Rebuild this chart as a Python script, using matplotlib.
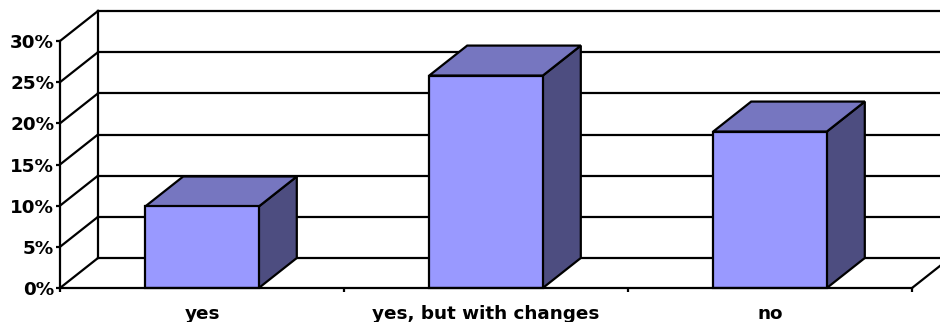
import matplotlib
matplotlib.use("Agg")
import matplotlib.pyplot as plt
from matplotlib.patches import Polygon

categories = ["yes", "yes, but with changes", "no"]
values = [9.9, 25.8, 19.0]
yticks = [0, 5, 10, 15, 20, 25, 30]
ytick_labels = ["0%", "5%", "10%", "15%", "20%", "25%", "30%"]

W, H, DPI = 940, 322, 100
fig = plt.figure(figsize=(W / DPI, H / DPI), dpi=DPI)
fig.patch.set_facecolor("white")

left_px, right_px, bottom_px, top_px = 60, 912, 288, 41
ax = fig.add_axes([left_px / W, 1 - bottom_px / H,
                   (right_px - left_px) / W, (bottom_px - top_px) / H])
ax.set_xlim(-0.5, 2.5)
ax.set_ylim(0, 30)
ax.set_facecolor("none")

# depth offset of the 3D look, in data units
dx = 38 * 3.0 / (right_px - left_px)
dy = 30 * 30.0 / (bottom_px - top_px)

LW = 1.6
K = "black"
front_c = "#9999FF"
top_c = "#7676C0"
side_c = "#4D4D80"

x0, x1 = -0.5, 2.5
# back wall
ax.plot([x0 + dx, x0 + dx], [dy, 30 + dy], color=K, lw=LW, clip_on=False, zorder=1, solid_capstyle="projecting")
ax.plot([x1 + dx, x1 + dx], [dy, 30 + dy], color=K, lw=LW, clip_on=False, zorder=1)
for v in yticks:
    ax.plot([x0 + dx, x1 + dx], [v + dy, v + dy], color=K, lw=LW, clip_on=False, zorder=1)
    ax.plot([x0, x0 + dx], [v, v + dy], color=K, lw=LW, clip_on=False, zorder=1)
# floor right edge
ax.plot([x1, x1 + dx], [0, dy], color=K, lw=LW, clip_on=False, zorder=1)

# bars
bw = 0.4
for i, v in enumerate(values):
    a, b = i - bw / 2, i + bw / 2
    front = Polygon([(a, 0), (b, 0), (b, v), (a, v)], closed=True,
                    facecolor=front_c, edgecolor=K, lw=LW, zorder=3, clip_on=False, joinstyle="miter")
    top = Polygon([(a, v), (b, v), (b + dx, v + dy), (a + dx, v + dy)], closed=True,
                  facecolor=top_c, edgecolor=K, lw=LW, zorder=3, clip_on=False, joinstyle="miter")
    side = Polygon([(b, 0), (b + dx, dy), (b + dx, v + dy), (b, v)], closed=True,
                   facecolor=side_c, edgecolor=K, lw=LW, zorder=3, clip_on=False, joinstyle="miter")
    for p in (side, top, front):
        ax.add_patch(p)

# spines
for s in ("top", "right"):
    ax.spines[s].set_visible(False)
for s in ("left", "bottom"):
    ax.spines[s].set_linewidth(LW)
    ax.spines[s].set_color(K)
    ax.spines[s].set_zorder(4)

font = dict(family="DejaVu Sans", weight="bold", size=13.2)

ax.set_yticks(yticks)
ax.set_yticklabels(ytick_labels, fontdict=font)
ax.tick_params(axis="y", direction="out", length=3.2, width=LW, pad=1.0, colors=K)

ax.set_xticks([-0.5, 0.5, 1.5, 2.5])
ax.set_xticklabels([])
ax.tick_params(axis="x", direction="out", length=3.2, width=LW, colors=K)

for i, c in enumerate(categories):
    ax.annotate(c, xy=(i, 0), xytext=(0, -31 * 72 / DPI), textcoords="offset points",
                ha="center", va="baseline", fontsize=font["size"], fontweight="bold",
                family=font["family"], color=K, annotation_clip=False)

fig.savefig("out.png", dpi=DPI, facecolor="white")
